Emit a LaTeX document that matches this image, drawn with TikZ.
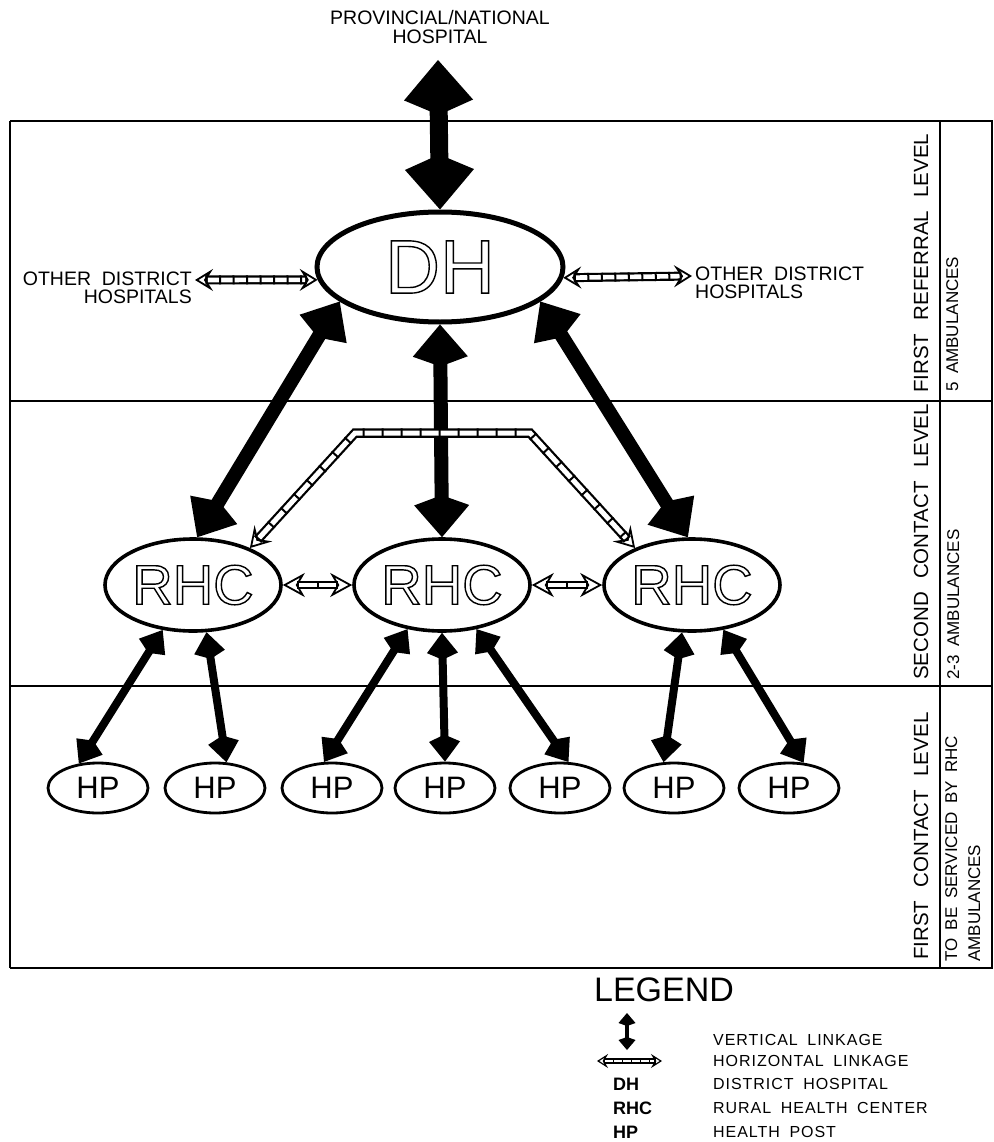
\documentclass[tikz,border=0pt]{standalone}
\usepackage{fontspec}
\setmainfont{Liberation Sans}
\newfontfamily\legfont[LetterSpace=6]{Liberation Sans}
\usetikzlibrary{arrows.meta,calc,shapes.geometric}
\newcommand\myfs[2]{\fontsize{#1}{#2}\selectfont}
\newcommand\wsp[1]{\spaceskip=#1\relax}
\newcommand\outl[1]{\special{pdf:literal direct 1 Tr 1.4 w}#1\special{pdf:literal direct 0 Tr}}
\newcommand\chain[2]{\draw[#1] #2; \draw[#1i] #2; \draw[#1b] #2;}
\begin{document}
\begin{tikzpicture}[x=1pt,y=-1pt,
 frame/.style={line width=1.3pt},
 dhnode/.style={ellipse,draw,line width=5pt,minimum width=246pt,minimum height=110pt,inner sep=0pt,font=\myfs{76}{76}},
 rhcnode/.style={ellipse,draw,line width=3.6pt,minimum width=176pt,minimum height=92pt,inner sep=0pt,font=\myfs{56}{56}},
 hpnode/.style={ellipse,draw,line width=2.8pt,minimum width=100pt,minimum height=50pt,inner sep=0pt,font=\myfs{31}{31}},
 vbig/.style={line width=18pt,line cap=round,{Kite[length=55pt,width=69pt,inset=15pt,line width=0pt]}-{Kite[length=55pt,width=69pt,inset=15pt,line width=0pt]}},
 vmid/.style={line width=14pt,line cap=round,{Kite[length=42pt,width=55pt,inset=10pt,line width=0pt]}-{Kite[length=42pt,width=55pt,inset=10pt,line width=0pt]}},
 vsmall/.style={line width=8pt,line cap=round,{Kite[length=27pt,width=31pt,inset=7pt,line width=0pt]}-{Kite[length=27pt,width=31pt,inset=7pt,line width=0pt]}},
 vtiny/.style={line width=4pt,line cap=round,{Kite[length=13pt,width=17pt,inset=3pt,line width=0pt]}-{Kite[length=13pt,width=17pt,inset=3pt,line width=0pt]}},
 % horizontal linkage chains
 hA/.style={line width=9pt,shorten <=10.5pt,shorten >=10.5pt},
 hAi/.style={white,line width=4.6pt,shorten <=12.5pt,shorten >=12.5pt},
 hAb/.style={hA,dash pattern=on 2pt off 11.5pt},
 hAt/.style={line width=1.8pt,-{Stealth[open,length=18pt,width=22pt,inset=7pt]}},
 hB/.style={line width=9.5pt,line join=miter,shorten <=11.5pt,shorten >=11.5pt},
 hBi/.style={white,line width=5pt,line join=miter,shorten <=13.5pt,shorten >=13.5pt},
 hBb/.style={hB,dash pattern=on 2pt off 17pt},
 hBt/.style={line width=1.8pt,-{Stealth[open,length=20pt,width=24pt,inset=8pt]}},
 hC/.style={line width=7.5pt,shorten <=14.5pt,shorten >=14.5pt},
 hCi/.style={white,line width=3.5pt,shorten <=16.5pt,shorten >=16.5pt},
 hCb/.style={hC,dash pattern=on 2pt off 18pt},
 hCt/.style={line width=1.8pt,-{Stealth[open,length=22pt,width=24pt,inset=7pt]}},
 hD/.style={line width=5.5pt,shorten <=6.5pt,shorten >=6.5pt},
 hDi/.style={white,line width=2.5pt,shorten <=7.9pt,shorten >=7.9pt},
 hDb/.style={hD,dash pattern=on 1.4pt off 7.6pt},
 hDt/.style={line width=1.2pt,-{Stealth[open,length=11pt,width=14pt,inset=4pt]}},
 lbl/.style={inner sep=0pt,font={\myfs{19.5}{18}\wsp{0.55em}}},
 lvl/.style={rotate=90,anchor=base west,inner sep=0pt,font={\myfs{20.5}{20}\wsp{0.65em}}},
 amb/.style={rotate=90,anchor=base west,inner sep=0pt,font={\myfs{17}{23}\wsp{0.5em}}},
 legab/.style={anchor=west,inner sep=0pt,font={\myfs{18}{18}\bfseries}},
 legtx/.style={anchor=west,inner sep=0pt,font={\legfont\myfs{16}{16}\wsp{0.6em}}}
]
\useasboundingbox (0,0) rectangle (993,1142);

% frame
\draw[frame] (10,121) -- (993,121);
\draw[frame] (10,401) -- (993,401);
\draw[frame] (10,686) -- (993,686);
\draw[frame] (10,968) -- (993,968);
\draw[frame] (10,121) -- (10,968);
\draw[frame] (940,121) -- (940,968);
\draw[frame] (992,121) -- (992,968);

% level labels
\node[lvl] (lvl1) at (928,393) {FIRST REFERRAL LEVEL};
\node[lvl] (lvl2) at (928,680) {SECOND CONTACT LEVEL};
\node[lvl] (lvl3) at (928,960) {FIRST CONTACT LEVEL};
\node[amb] (amb1) at (958,392) {5 AMBULANCES};
\node[amb] (amb2) at (959,680) {2-3 AMBULANCES};
\node[amb,anchor=north west,align=left] (amb3) at (945,962) {TO BE SERVICED BY RHC\\AMBULANCES};

% nodes
\node[lbl,align=center,font={\myfs{19.5}{19}}] (pnh) at (440,27) {PROVINCIAL/NATIONAL\\HOSPITAL};
\coordinate (pnhTip) at (438,60);
\node[dhnode] (dh) at (440,267) {\outl{DH}};
\node[rhcnode] (rhc1) at (193,585) {\outl{RHC}};
\node[rhcnode] (rhc2) at (442,585) {\outl{RHC}};
\node[rhcnode] (rhc3) at (692,585) {\outl{RHC}};
\node[hpnode] (hp1) at (98,788) {HP};
\node[hpnode] (hp2) at (215,788) {HP};
\node[hpnode] (hp3) at (332,788) {HP};
\node[hpnode] (hp4) at (445,788) {HP};
\node[hpnode] (hp5) at (560,788) {HP};
\node[hpnode] (hp6) at (674,788) {HP};
\node[hpnode] (hp7) at (789,788) {HP};

\node[lbl,align=right,anchor=east] (odhL) at (192,288) {OTHER DISTRICT\\HOSPITALS};
\node[lbl,align=left,anchor=west] (odhR) at (695,283) {OTHER DISTRICT\\HOSPITALS};
\coordinate (hlLa) at (195,280);
\coordinate (hlRb) at (692,276);

% vertical linkages
\draw[vbig] (pnhTip) -- (dh.90);
\draw[vmid] (dh.199) -- (rhc1.85);
\draw[vmid] (dh.270) -- (rhc2.90);
\draw[vmid] (dh.341) -- (rhc3.95);
\draw[vsmall] (rhc1.236) -- (hp1.128);
\draw[vsmall] (rhc1.286) -- (hp2.66);
\draw[vsmall] (rhc2.232) -- (hp3.107);
\draw[vsmall] (rhc2.270) -- (hp4.90);
\draw[vsmall] (rhc2.308) -- (hp5.72);
\draw[vsmall] (rhc3.258) -- (hp6.112);
\draw[vsmall] (rhc3.305) -- (hp7.60);

% horizontal linkages
\chain{hA}{(hlLa) -- (dh.186)}
\draw[hAt] ($(hlLa)!11pt!(dh.186)$) -- (hlLa);
\draw[hAt] ($(dh.186)!11pt!(hlLa)$) -- (dh.186);
\chain{hA}{(dh.355) -- (hlRb)}
\draw[hAt] ($(dh.355)!11pt!(hlRb)$) -- (dh.355);
\draw[hAt] ($(hlRb)!11pt!(dh.355)$) -- (hlRb);

\coordinate (bendL) at (355,433);
\coordinate (bendR) at (530,433);
\chain{hB}{(rhc1.33) -- (bendL) -- (bendR) -- (rhc3.147)}
\draw[hBt] ($(rhc1.33)!12pt!(bendL)$) -- (rhc1.33);
\draw[hBt] ($(rhc3.147)!12pt!(bendR)$) -- (rhc3.147);

\chain{hC}{(rhc1.east) -- (rhc2.west)}
\draw[hCt] ($(rhc1.east)!15pt!(rhc2.west)$) -- (rhc1.east);
\draw[hCt] ($(rhc2.west)!15pt!(rhc1.east)$) -- (rhc2.west);
\chain{hC}{(rhc2.east) -- (rhc3.west)}
\draw[hCt] ($(rhc2.east)!15pt!(rhc3.west)$) -- (rhc2.east);
\draw[hCt] ($(rhc3.west)!15pt!(rhc2.east)$) -- (rhc3.west);

% legend
\node[inner sep=0pt,font=\myfs{34}{34}] (legT) at (664,990) {LEGEND};
\coordinate (lv1) at (627,1013);
\coordinate (lv2) at (627,1050);
\draw[vtiny] (lv1) -- (lv2);
\coordinate (lh1) at (597,1061);
\coordinate (lh2) at (662,1061);
\chain{hD}{(lh1) -- (lh2)}
\draw[hDt] ($(lh1)!7pt!(lh2)$) -- (lh1);
\draw[hDt] ($(lh2)!7pt!(lh1)$) -- (lh2);
\node[legab] (legDH) at (613,1084) {DH};
\node[legab] (legRHC) at (613,1108) {RHC};
\node[legab] (legHP) at (613,1132) {HP};
\node[legtx] (legV) at (713,1040) {VERTICAL LINKAGE};
\node[legtx] (legH) at (713,1061) {HORIZONTAL LINKAGE};
\node[legtx] (legD) at (713,1084) {DISTRICT HOSPITAL};
\node[legtx] (legR) at (713,1108) {RURAL HEALTH CENTER};
\node[legtx] (legP) at (713,1132) {HEALTH POST};
\end{tikzpicture}
\end{document}
